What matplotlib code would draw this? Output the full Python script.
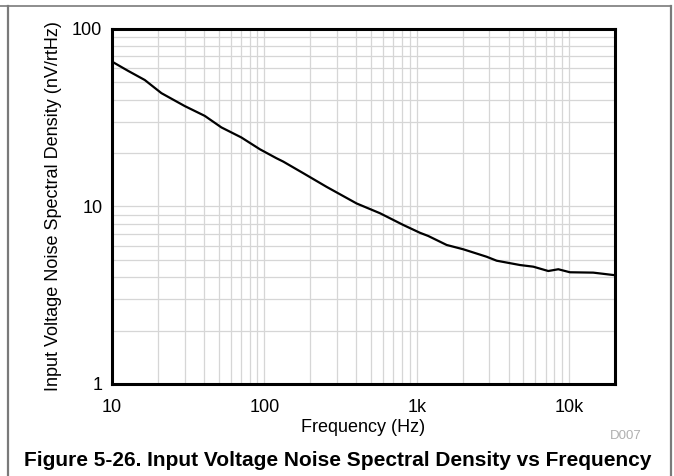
import matplotlib.pyplot as plt
from matplotlib.lines import Line2D
from matplotlib.ticker import FixedLocator, NullFormatter, LogLocator

# readings
freq_hz = [10, 12.7, 16.4, 21.1, 30.0, 40.6, 52.2, 70.5, 93.5, 120, 133, 180, 256,
           403, 574, 815, 1049, 1190, 1571, 2019, 2875, 3344, 4754, 5818, 7295,
           8490, 10120, 14390, 20000]
noise_nv = [65.5, 58.2, 51.6, 43.5, 36.8, 32.4, 27.9, 24.5, 21.0, 18.7, 17.9, 15.4, 12.9,
            10.4, 9.16, 7.87, 7.11, 6.82, 6.07, 5.74, 5.21, 4.95, 4.68, 4.58, 4.33,
            4.43, 4.26, 4.24, 4.10]

x_ticks = [10, 100, 1000, 10000]
x_ticklabels = ["10", "100", "1k", "10k"]
y_ticks = [1, 10, 100]
y_ticklabels = ["1", "10", "100"]

plt.rcParams['font.family'] = ['Liberation Sans', 'DejaVu Sans']

fig = plt.figure(figsize=(6.74, 4.76), dpi=100)
ax = fig.add_axes([0.1662, 0.1933, 0.7463, 0.7458])

ax.plot(freq_hz, noise_nv, color='black', linewidth=1.6, zorder=3)

ax.set_xscale('log')
ax.set_yscale('log')
ax.set_xlim(10, 20000)
ax.set_ylim(1, 100)

ax.xaxis.set_major_locator(FixedLocator(x_ticks))
ax.set_xticklabels(x_ticklabels)
ax.yaxis.set_major_locator(FixedLocator(y_ticks))
ax.set_yticklabels(y_ticklabels)
ax.xaxis.set_minor_locator(LogLocator(base=10, subs=range(2, 10), numticks=20))
ax.yaxis.set_minor_locator(LogLocator(base=10, subs=range(2, 10), numticks=20))
ax.xaxis.set_minor_formatter(NullFormatter())
ax.yaxis.set_minor_formatter(NullFormatter())

ax.grid(True, which='both', color='#d6d6d6', linewidth=0.9)
ax.set_axisbelow(True)
ax.tick_params(which='both', length=0, labelsize=13)
ax.tick_params(axis='x', pad=11)
ax.tick_params(axis='y', pad=7)

for sp in ax.spines.values():
    sp.set_linewidth(2.2)

ax.set_xlabel('Frequency (Hz)', fontsize=13, labelpad=2)
ax.set_ylabel('Input Voltage Noise Spectral Density (nV/rtHz)', fontsize=13, labelpad=7)

fig.text(626 / 674, 1 - 436 / 476, 'D007', color='#b0b0b0', fontsize=9.5,
         ha='center', va='center')
fig.text(338 / 674, 1 - 460 / 476,
         'Figure 5-26. Input Voltage Noise Spectral Density vs Frequency',
         fontsize=15, fontweight='bold', ha='center', va='center')

# outer frame
frame_color = '#7a7a7a'
fig.add_artist(Line2D([0, 671 / 674], [1 - 6 / 476] * 2, color=frame_color, linewidth=1.2))
fig.add_artist(Line2D([8 / 674] * 2, [0, 1 - 6 / 476], color=frame_color, linewidth=1.6))
fig.add_artist(Line2D([671 / 674] * 2, [0, 1 - 6 / 476], color=frame_color, linewidth=1.6))

fig.savefig('out.png', dpi=100)
